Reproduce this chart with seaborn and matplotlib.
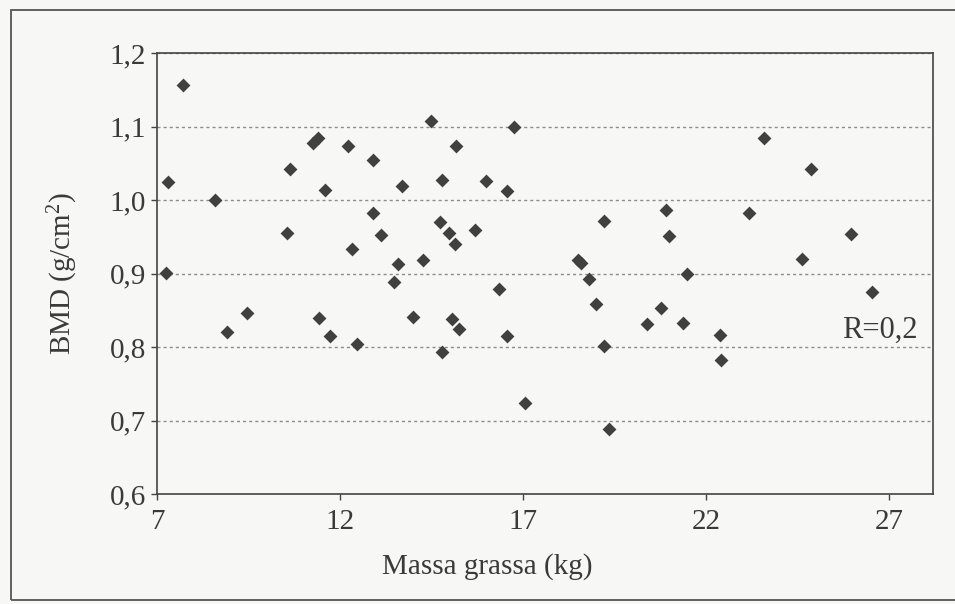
import matplotlib
matplotlib.use("Agg")
import matplotlib.pyplot as plt
from matplotlib.patches import Rectangle
import pandas as pd
import seaborn as sns

# Fat mass (kg) and bone mineral density (g/cm^2) per subject
massa_grassa = [
    7.72, 7.31, 7.25, 8.58, 8.90, 9.47, 10.63, 10.56, 11.25, 11.41,
    11.59, 11.43, 11.73, 12.23, 12.32, 12.47, 12.91, 12.89, 13.11, 13.69,
    13.59, 13.48, 14.00, 14.28, 14.48, 14.78, 14.72, 14.97, 15.14, 15.16,
    15.05, 15.25, 14.79, 15.69, 15.99, 16.33, 16.55, 16.55, 16.75, 17.06,
    18.51, 18.57, 18.81, 18.99, 19.21, 19.21, 19.35, 20.38, 20.77, 20.90,
    20.98, 21.38, 21.49, 22.38, 22.42, 23.17, 23.57, 24.61, 24.86, 25.95,
    26.53,
]
bmd = [
    1.157, 1.025, 0.901, 1.000, 0.820, 0.846, 1.042, 0.955, 1.078, 1.084,
    1.014, 0.840, 0.815, 1.073, 0.933, 0.804, 1.055, 0.982, 0.952, 1.019,
    0.913, 0.889, 0.841, 0.918, 1.108, 1.027, 0.970, 0.955, 0.940, 1.074,
    0.838, 0.825, 0.794, 0.959, 1.026, 0.879, 1.013, 0.815, 1.099, 0.724,
    0.919, 0.915, 0.892, 0.859, 0.971, 0.801, 0.689, 0.831, 0.853, 0.987,
    0.951, 0.833, 0.900, 0.816, 0.782, 0.983, 1.085, 0.920, 1.043, 0.954,
    0.875,
]
x_ticks = [7, 12, 17, 22, 27]
y_ticks = [0.6, 0.7, 0.8, 0.9, 1.0, 1.1, 1.2]
y_tick_labels = ["0,6", "0,7", "0,8", "0,9", "1,0", "1,1", "1,2"]
x_label = "Massa grassa (kg)"
y_label = "BMD (g/cm$^{2}$)"
note = "R=0,2"

df = pd.DataFrame({"massa": massa_grassa, "bmd": bmd})

sns.set_style("white")
paper = "#f7f7f5"
ink = "#3a3a3a"
plt.rcParams["font.family"] = ["Liberation Serif", "DejaVu Serif"]
plt.rcParams["mathtext.fontset"] = "custom"
plt.rcParams["mathtext.rm"] = "Liberation Serif"
plt.rcParams["mathtext.it"] = "Liberation Serif"
plt.rcParams["mathtext.default"] = "rm"

fig = plt.figure(figsize=(9.55, 6.04), dpi=100, facecolor=paper)
ax = fig.add_axes([0.1644, 0.182, 0.8126, 0.730])
ax.set_facecolor(paper)

# page frame around the figure
fig.patches.append(Rectangle((0.012, 0.006), 1.2, 0.978, transform=fig.transFigure,
                             fill=False, edgecolor="#555555", linewidth=1.3))

sns.scatterplot(data=df, x="massa", y="bmd", marker="D", s=50, color="#404040",
                linewidth=0, ax=ax, zorder=3)

ax.set_xlim(7, 28.2)
ax.set_ylim(0.6, 1.2)
ax.set_xticks(x_ticks)
ax.set_xticklabels([str(t) for t in x_ticks])
ax.set_yticks(y_ticks)
ax.set_yticklabels(y_tick_labels)

ax.yaxis.grid(True, linestyle=(0, (2.2, 2.2)), color="#8c8c8c", linewidth=1.0)
ax.xaxis.grid(False)
ax.set_axisbelow(True)

for side in ["left", "right", "top", "bottom"]:
    ax.spines[side].set_visible(True)
    ax.spines[side].set_color("#444444")
    ax.spines[side].set_linewidth(1.2)

ax.tick_params(axis="both", direction="out", length=4, width=1.0, color="#444444",
               labelsize=21, labelcolor=ink, pad=4)
ax.tick_params(axis="x", bottom=True, top=False, pad=7)
ax.tick_params(axis="y", left=True, right=False)

ax.set_xlabel(x_label, fontsize=21, color=ink)
ax.set_ylabel(y_label, fontsize=21, color=ink)
ax.xaxis.set_label_coords(0.425, -0.165)
ax.xaxis.label.set_verticalalignment("center")
ax.yaxis.set_label_coords(-0.121, 0.5)
ax.yaxis.label.set_verticalalignment("center")

ax.text(26.75, 0.823, note, fontsize=22, color=ink, ha="center", va="center")

fig.savefig("out.png", dpi=100, facecolor=paper)
